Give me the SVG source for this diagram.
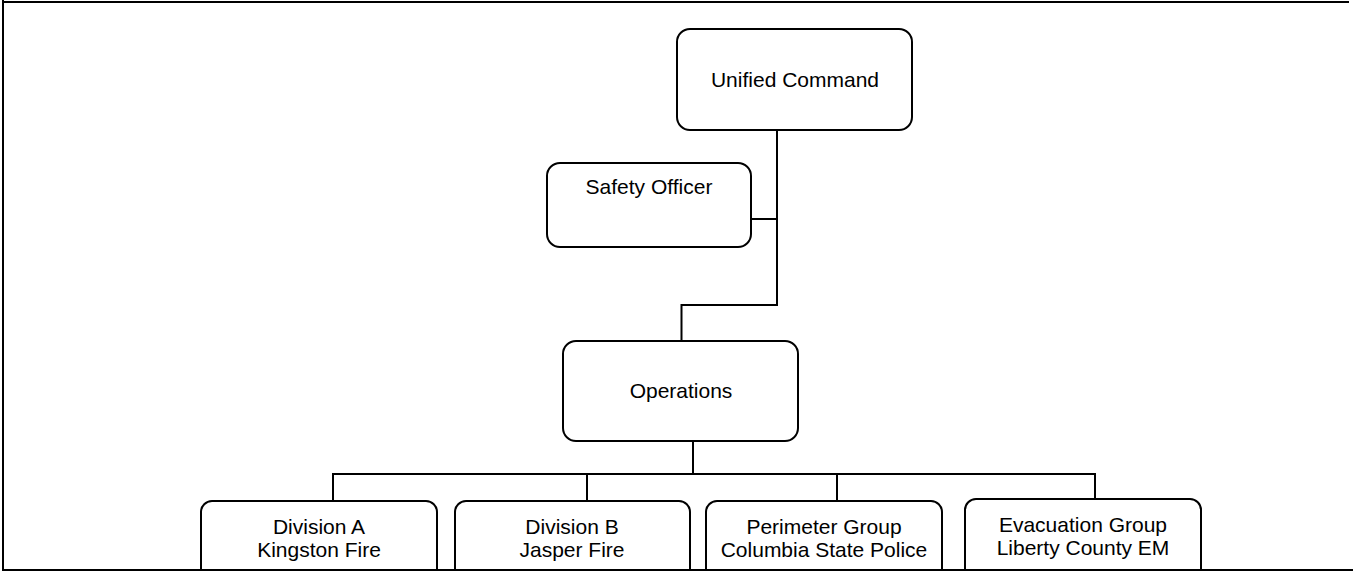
<svg xmlns="http://www.w3.org/2000/svg" width="1353" height="571" viewBox="0 0 1353 571">
<style>
.box{fill:#fff;stroke:#000;stroke-width:2}
.ln{fill:none;stroke:#000;stroke-width:2}
text{font-family:"Liberation Sans",Arial,sans-serif;font-size:21px;fill:#000;text-anchor:middle}
</style>
<rect width="1353" height="571" fill="#fff"/>
<g id="connectors">
<path class="ln" d="M777,130 V305 H681.5 V341"/>
<path class="ln" d="M751,219 H777"/>
<path class="ln" d="M693,441 V474"/>
<path class="ln" d="M332,474 H1096"/>
<path class="ln" d="M333,474 V501 M587,474 V501 M837,474 V501 M1095,474 V499"/>
</g>
<g id="unified-command">
<rect class="box" x="677" y="29" width="235" height="101" rx="13"/>
<text x="795" y="87">Unified Command</text>
</g>
<g id="safety-officer">
<rect class="box" x="547" y="163" width="204" height="84" rx="13"/>
<text x="649" y="194">Safety Officer</text>
</g>
<g id="operations">
<rect class="box" x="563" y="341" width="235" height="100" rx="13"/>
<text x="681" y="398">Operations</text>
</g>
<g id="division-a">
<rect class="box" x="201" y="501" width="236" height="90" rx="11"/>
<text x="319" y="534">Division A</text>
<text x="319" y="557">Kingston Fire</text>
</g>
<g id="division-b">
<rect class="box" x="455" y="501" width="235" height="90" rx="11"/>
<text x="572" y="534">Division B</text>
<text x="572" y="557">Jasper Fire</text>
</g>
<g id="perimeter-group">
<rect class="box" x="706" y="501" width="236" height="90" rx="11"/>
<text x="824" y="534">Perimeter Group</text>
<text x="824" y="557">Columbia State Police</text>
</g>
<g id="evacuation-group">
<rect class="box" x="965" y="499" width="236" height="92" rx="11"/>
<text x="1083" y="532">Evacuation Group</text>
<text x="1083" y="555">Liberty County EM</text>
</g>
<g id="frame">
<path class="ln" d="M3,0 V571"/>
<path class="ln" d="M2,2 H1349"/>
<path class="ln" d="M2,570 H1353"/>
</g>
</svg>
